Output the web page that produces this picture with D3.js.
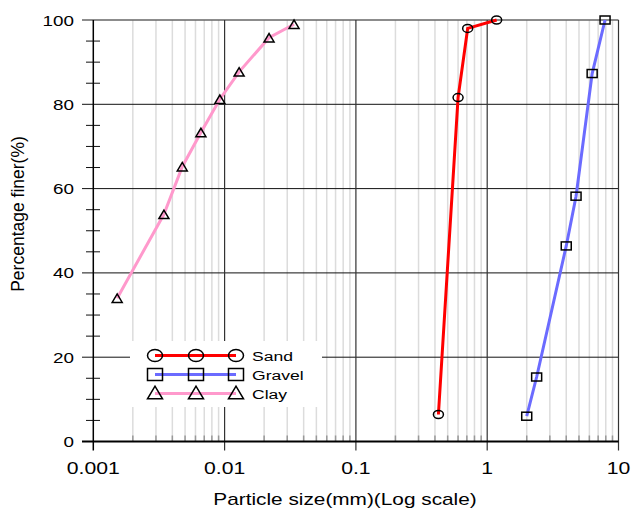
<!DOCTYPE html>
<html><head><meta charset="utf-8">
<script src="https://cdn.jsdelivr.net/npm/d3@7"></script>
<style>body{margin:0;background:#fff}svg{display:block}text{font-family:"Liberation Sans",Arial,sans-serif;fill:#000}</style>
</head><body>
<script>
const sandSize = [0.425, 0.60, 0.71, 1.18];
const sandPct = [6.4, 81.6, 98.0, 100];
const gravelSize = [2.0, 2.38, 4.0, 4.75, 6.3, 7.9];
const gravelPct = [6.0, 15.3, 46.4, 58.2, 87.3, 100];
const claySize = [0.00152, 0.00345, 0.00476, 0.0066, 0.0092, 0.0129, 0.0218, 0.0338];
const clayPct = [34.0, 53.9, 65.2, 73.3, 81.2, 87.7, 95.8, 99.0];
const xTicks = [0.001, 0.01, 0.1, 1, 10];
const xTickLabels = ["0.001", "0.01", "0.1", "1", "10"];
const yTicks = [0, 20, 40, 60, 80, 100];
const seriesNames = ["Sand", "Gravel", "Clay"];

const W = 633, H = 511, SX = 1.3;
const svg = d3.select("body").append("svg").attr("width", W).attr("height", H);
const x = d3.scaleLog().domain([0.001, 10]).range([93.3, 618.5]);
const y = d3.scaleLinear().domain([0, 100]).range([441.5, 20]);

// minor x positions
const minors = [];
for (let d = -3; d < 1; d++) for (let k = 2; k <= 9; k++) minors.push(k * Math.pow(10, d));

const g = svg.append("g");
// minor vertical gridlines
g.selectAll(".mg").data(minors).join("line")
  .attr("x1", d => x(d)).attr("x2", d => x(d)).attr("y1", y(100)).attr("y2", y(0))
  .attr("stroke", "#dcdcdc").attr("stroke-width", 1.5);
// minor ticks at bottom
g.selectAll(".mt").data(minors).join("line")
  .attr("x1", d => x(d)).attr("x2", d => x(d)).attr("y1", y(0) - 6).attr("y2", y(0))
  .attr("stroke", "#999").attr("stroke-width", 1.5);
// horizontal gridlines
g.selectAll(".hg").data([20, 40, 60, 80]).join("line")
  .attr("x1", 82).attr("x2", x(10)).attr("y1", d => y(d)).attr("y2", d => y(d))
  .attr("stroke", "#111").attr("stroke-width", 1);
g.append("line").attr("x1", 82).attr("x2", x(10)).attr("y1", y(100)).attr("y2", y(100))
  .attr("stroke", "#666").attr("stroke-width", 1.5);
// y minor ticks
const yMinor = d3.range(5, 100, 5).filter(v => v % 20 !== 0);
g.selectAll(".ym").data(yMinor).join("line")
  .attr("x1", 86).attr("x2", 100).attr("y1", d => y(d)).attr("y2", d => y(d))
  .attr("stroke", "#111").attr("stroke-width", 1);
// major vertical gridlines
g.selectAll(".vg").data(xTicks.slice(1)).join("line")
  .attr("x1", d => x(d)).attr("x2", d => x(d)).attr("y1", y(100)).attr("y2", y(0) + 9)
  .attr("stroke", "#333").attr("stroke-width", 1.2);
// y axis
g.append("line").attr("x1", x(0.001)).attr("x2", x(0.001)).attr("y1", y(100)).attr("y2", y(0) + 9)
  .attr("stroke", "#000").attr("stroke-width", 1.5);
// x axis
g.append("line").attr("x1", 82).attr("x2", x(10)).attr("y1", y(0)).attr("y2", y(0))
  .attr("stroke", "#000").attr("stroke-width", 2);

// tick labels
function stext(sel, tx, ty, str, size, anchor) {
  return sel.append("text").attr("transform", `translate(${tx},${ty}) scale(${SX},1)`)
    .attr("text-anchor", anchor).attr("font-size", size).text(str);
}
yTicks.forEach(v => stext(svg, 74, y(v) + 5.5, String(v), 14.5, "end"));
xTicks.forEach((v, i) => stext(svg, x(v), 474, xTickLabels[i], 16.3, "middle"));
stext(svg, 345, 505, "Particle size(mm)(Log scale)", 16, "middle");
svg.append("text").attr("transform", "translate(24,214) rotate(-90)")
  .attr("text-anchor", "middle").attr("font-size", 17.5).text("Percentage finer(%)");

// markers
function marker(sel, type, cx, cy, s) {
  if (type === "circle") return sel.append("ellipse").attr("cx", cx).attr("cy", cy).attr("rx", 5 * s).attr("ry", 4 * s)
    .attr("fill", "none").attr("stroke", "#000").attr("stroke-width", 1.5);
  if (type === "square") return sel.append("rect").attr("x", cx - 5 * s).attr("y", cy - 4 * s).attr("width", 10 * s).attr("height", 8 * s)
    .attr("fill", "none").attr("stroke", "#000").attr("stroke-width", 1.5);
  const w = 5 * s, h = 4.2 * s;
  return sel.append("path").attr("d", `M${cx - w},${cy + h}L${cx + w},${cy + h}L${cx},${cy - h}Z`)
    .attr("fill", "none").attr("stroke", "#000").attr("stroke-width", 1.5);
}

const series = [
  {name: seriesNames[0], xs: sandSize, ys: sandPct, color: "#ff0000", type: "circle"},
  {name: seriesNames[1], xs: gravelSize, ys: gravelPct, color: "#6b6bff", type: "square"},
  {name: seriesNames[2], xs: claySize, ys: clayPct, color: "#ff99cc", type: "triangle"}
];
const line = d3.line().x(d => x(d[0])).y(d => y(d[1]));
series.forEach(s => {
  const pts = s.xs.map((v, i) => [v, s.ys[i]]);
  svg.append("path").attr("d", line(pts)).attr("fill", "none").attr("stroke", s.color).attr("stroke-width", 3);
});
series.forEach(s => {
  s.xs.forEach((v, i) => marker(svg, s.type, x(v), y(s.ys[i]), 1));
});

// legend
const lg = svg.append("g");
lg.append("rect").attr("x", 130).attr("y", 341).attr("width", 192).attr("height", 66).attr("fill", "#fff");
series.forEach((s, i) => {
  const ly = 355.5 + i * 19;
  lg.append("line").attr("x1", 155).attr("x2", 236).attr("y1", ly).attr("y2", ly)
    .attr("stroke", s.color).attr("stroke-width", 3);
  [155, 196, 236].forEach(mx => marker(lg, s.type, mx, s.type === "triangle" ? ly - 1 : ly, 1.5));
  stext(lg, 252, ly + 5, s.name, 13.5, "start");
});
</script>
</body></html>
